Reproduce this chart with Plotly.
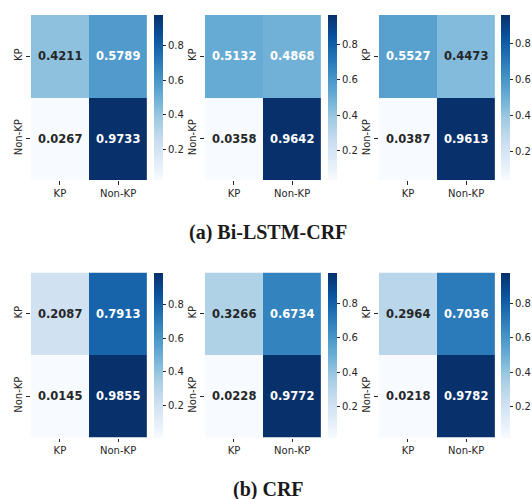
import plotly.graph_objects as go

# ---- data ----
labels = ["KP", "Non-KP"]
bilstm_a = [[0.4211, 0.5789], [0.0267, 0.9733]]
bilstm_b = [[0.5132, 0.4868], [0.0358, 0.9642]]
bilstm_c = [[0.5527, 0.4473], [0.0387, 0.9613]]
crf_a = [[0.2087, 0.7913], [0.0145, 0.9855]]
crf_b = [[0.3266, 0.6734], [0.0228, 0.9772]]
crf_c = [[0.2964, 0.7036], [0.0218, 0.9782]]
cbar_ticks = [0.2, 0.4, 0.6, 0.8]
captions = ["(a) Bi-LSTM-CRF", "(b) CRF"]

matrices = [bilstm_a, bilstm_b, bilstm_c, crf_a, crf_b, crf_c]

# matplotlib "Blues"
blues_hex = ["#f7fbff", "#deebf7", "#c6dbef", "#9ecae1", "#6baed6",
             "#4292c6", "#2171b5", "#08519c", "#08306b"]
blues_rgb = [tuple(int(h[i:i + 2], 16) for i in (1, 3, 5)) for h in blues_hex]
colorscale = [[i / (len(blues_hex) - 1), h] for i, h in enumerate(blues_hex)]


def blues(t):
    t = min(max(t, 0.0), 1.0)
    pos = t * (len(blues_rgb) - 1)
    i = min(int(pos), len(blues_rgb) - 2)
    f = pos - i
    a, b = blues_rgb[i], blues_rgb[i + 1]
    return [(a[k] + (b[k] - a[k]) * f) / 255 for k in range(3)]


def lum(rgb):
    lin = [c / 12.92 if c <= 0.03928 else ((c + 0.055) / 1.055) ** 2.4 for c in rgb]
    return 0.2126 * lin[0] + 0.7152 * lin[1] + 0.0722 * lin[2]


W, H = 532, 499
row_tops = [15, 272.5]
ph = 165
col_lefts = [31, 206, 381]
pw = 117
cbar_lefts = [155, 330, 504]
dark = "#262626"

fig = go.Figure()
layout = dict(width=W, height=H, margin=dict(l=0, r=0, t=0, b=0),
              paper_bgcolor="white", plot_bgcolor="white", showlegend=False)
annotations = []

for idx, z in enumerate(matrices):
    r, c = divmod(idx, 3)
    n = idx + 1
    sfx = "" if n == 1 else str(n)
    zmin = min(min(row) for row in z)
    zmax = max(max(row) for row in z)
    fig.add_trace(go.Heatmap(
        z=z, x=labels, y=labels, coloraxis="coloraxis" + sfx,
        xaxis="x" + sfx, yaxis="y" + sfx, hoverinfo="skip", xgap=0, ygap=0))
    x0 = col_lefts[c] / W
    x1 = (col_lefts[c] + pw) / W
    y1 = 1 - row_tops[r] / H
    y0 = 1 - (row_tops[r] + ph) / H
    layout["xaxis" + sfx] = dict(
        domain=[x0, x1], anchor="y" + sfx, showgrid=False, zeroline=False,
        showline=False, ticks="outside", ticklen=3.5, tickwidth=1, tickcolor=dark,
        tickfont=dict(family="DejaVu Sans", size=10, color=dark), fixedrange=True)
    layout["yaxis" + sfx] = dict(
        domain=[y0, y1], anchor="x" + sfx, showgrid=False, zeroline=False,
        showline=False, ticks="outside", ticklen=3.5, tickwidth=1, tickcolor=dark,
        autorange="reversed", tickangle=-90,
        tickfont=dict(family="DejaVu Sans", size=10, color=dark), fixedrange=True)
    layout["coloraxis" + sfx] = dict(
        colorscale=colorscale, cmin=zmin, cmax=zmax,
        colorbar=dict(
            x=cbar_lefts[c] / W, xanchor="left", xref="paper",
            y=(y0 + y1) / 2, yanchor="middle",
            lenmode="pixels", len=ph, thicknessmode="pixels", thickness=9,
            outlinewidth=0, xpad=0, ypad=0, tickvals=cbar_ticks,
            ticktext=[f"{v:.1f}" for v in cbar_ticks],
            ticks="outside", ticklen=3.5, tickcolor=dark,
            tickfont=dict(family="DejaVu Sans", size=10, color=dark)))
    for i, yl in enumerate(labels):
        for j, xl in enumerate(labels):
            v = z[i][j]
            t = (v - zmin) / (zmax - zmin)
            col = dark if lum(blues(t)) > 0.408 else "white"
            annotations.append(dict(
                x=xl, y=yl, xref="x" + sfx, yref="y" + sfx, text=f"{v:.4f}",
                showarrow=False,
                font=dict(family="DejaVu Sans", size=11.5, color=col, weight="bold")))

cap_y = [232, 489]
for k, cap in enumerate(captions):
    annotations.append(dict(
        x=270 / W, y=1 - cap_y[k] / H, xref="paper", yref="paper", text=cap,
        showarrow=False, xanchor="center", yanchor="middle",
        font=dict(family="Liberation Serif", size=20, color="#1a1a1a", weight="bold")))

layout["annotations"] = annotations
fig.update_layout(**layout)
fig.write_html("out.html", config={"displayModeBar": False},
               post_script="document.body.style.margin='0';document.body.style.overflow='hidden';")
